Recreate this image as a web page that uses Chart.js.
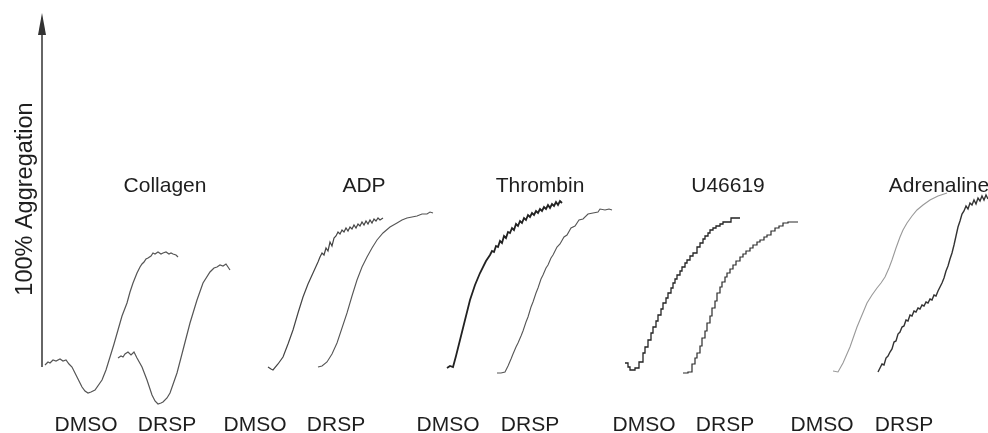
<!DOCTYPE html>
<html lang="en">
  <head>
    <meta charset="UTF-8" />
    <title>Platelet aggregation traces</title>
    <script src="https://cdn.jsdelivr.net/npm/chart.js@4.4.1/dist/chart.umd.min.js"></script>
    <style>
      html, body {
        margin: 0;
        padding: 0;
        background: #fff;
      }
      #wrap {
        width: 988px;
        height: 433px;
      }
    </style>
  </head>
  <body>
    <div id="wrap"><canvas id="aggChart" width="988" height="433"></canvas></div>

    <script>
      // time (x) and aggregation (y)
      const collagenDmsoT = [45,48,50,53,56,60,63,66,69,72,77,82,85,88,91,95,102,106,110,114,118,122,127,130,133,137,140,142,144,146,148,151,153,155,158,161,163,166,169,171,173,176,178];
      const collagenDmsoY = [2,5,4,7,6,8,6,7,3,0,-10,-20,-24,-26,-25,-23,-13,-3,10,23,37,51,64,75,84,94,100,103,105,108,109,111,114,113,115,113,114,115,113,114,113,112,110];
      const collagenDrspT = [118,121,123,125,128,131,134,137,142,147,152,155,158,161,163,167,170,177,183,190,197,203,210,212,214,217,220,223,226,228,230];
      const collagenDrspY = [9,11,10,13,15,12,15,9,0,-13,-28,-34,-37,-36,-35,-31,-26,-6,17,44,67,84,95,97,99,100,102,101,103,100,97];

      const adpDmsoT = [268,271,273,278,283,288,293,298,303,308,313,318,320,322,324,326,328,330,332,334,336,338,340,342,344,346,348,350,352,354,356,358,360,362,364,366,368,370,372,374,376,378,380,383];
      const adpDmsoY = [0,-2,-3,3,10,23,37,54,70,83,94,105,110,114,112,119,116,125,121,129,131,135,133,137,135,139,136,140,138,142,139,143,141,145,142,146,143,147,144,148,146,149,147,149];
      const adpDrspT = [318,322,327,332,337,342,347,352,357,362,367,372,377,383,390,397,402,407,412,417,422,427,430,433];
      const adpDrspY = [0,1,5,13,24,39,54,71,87,100,110,119,127,134,140,144,147,149,150,151,153,153,155,154];

      const thrombinDmsoT = [447,450,453,456,460,465,470,475,480,486,490,492,494,496,498,500,502,504,506,508,510,512,514,516,518,520,522,524,526,528,530,532,534,536,538,540,542,544,546,548,550,552,554,556,558,560,562];
      const thrombinDmsoY = [-1,1,0,11,27,47,67,82,94,106,112,116,115,121,120,126,124,131,129,135,134,139,137,143,141,146,144,149,147,152,150,154,152,156,154,158,156,160,158,162,159,163,161,165,162,166,164];
      const thrombinDrspT = [497,501,505,508,511,513,516,518,521,523,526,528,531,533,536,538,541,543,546,548,551,553,557,560,564,567,571,575,579,583,588,593,598,600,605,609,612];
      const thrombinDrspY = [-6,-6,-5,1,8,13,20,24,31,36,45,50,60,65,74,79,88,92,99,102,109,112,120,123,130,132,139,141,147,148,153,154,155,158,157,158,157];

      const u46619DmsoT = [625,628,630,633,635,639,643,645,648,651,653,656,658,661,663,666,668,671,673,675,677,680,682,685,687,690,693,697,700,703,705,708,710,713,716,720,723,728,731,736,740];
      const u46619DmsoY = [4,0,-3,-3,-1,5,14,20,27,34,40,46,52,58,64,69,74,79,84,88,92,96,100,104,107,111,114,120,124,128,131,134,137,139,141,143,145,145,149,149,149];
      const u46619DrspT = [683,686,688,692,695,697,700,702,705,707,710,712,715,717,720,722,725,727,730,733,736,740,743,746,750,753,757,760,764,767,771,775,779,783,788,793,798];
      const u46619DrspY = [-6,-6,-5,3,9,14,21,29,36,44,51,59,66,74,80,85,90,94,98,102,106,110,113,116,119,122,125,127,130,132,136,139,141,144,145,145,145];

      const adrenalineDmsoT = [833,838,843,850,857,862,867,872,877,881,885,889,892,896,900,903,907,912,917,923,930,938,947];
      const adrenalineDmsoY = [-4,-5,4,20,40,52,64,72,79,84,90,99,107,119,130,137,144,151,157,162,167,171,174];
      const adrenalineDrspT = [878,880,882,884,886,888,890,892,894,896,898,900,902,904,906,908,910,912,914,916,918,920,922,924,926,928,930,932,934,936,938,940,942,944,946,948,950,952,954,956,958,960,962,964,966,968,970,972,974,976,978,980,982,984,986,988];
      const adrenalineDrspY = [-5,-1,3,2,9,11,15,18,25,26,33,35,40,41,47,46,52,51,56,55,59,58,62,61,65,64,68,67,72,71,76,80,84,89,96,101,108,114,122,131,140,146,153,156,161,158,164,162,167,163,169,166,171,167,172,168];

      const agonists = ["Collagen", "ADP", "Thrombin", "U46619", "Adrenaline"];
      const treatments = ["DMSO", "DRSP", "DMSO", "DRSP", "DMSO", "DRSP", "DMSO", "DRSP", "DMSO", "DRSP"];
      const yTitle = "100% Aggregation";

      // where the labels sit, in time units
      const agonistX = [165, 364, 540, 728, 939];
      const treatmentX = [86, 167, 255, 336, 448, 530, 644, 725, 822, 904];

      function pts(t, y) {
        return t.map((v, i) => ({ x: v, y: y[i] }));
      }

      function trace(t, y, color, width, stepped) {
        return {
          data: pts(t, y),
          borderColor: color,
          borderWidth: width,
          pointRadius: 0,
          tension: 0,
          fill: false,
          showLine: true,
          stepped: stepped || false,
        };
      }

      const labelPlugin = {
        id: "labels",
        afterDraw(chart) {
          const ctx = chart.ctx;
          const xs = chart.scales.x;
          const ys = chart.scales.y;
          ctx.save();

          // y axis with arrow head
          const ax = xs.getPixelForValue(42);
          const y0 = ys.getPixelForValue(0);
          const yTop = ys.getPixelForValue(354);
          ctx.strokeStyle = "#333";
          ctx.fillStyle = "#333";
          ctx.lineWidth = 1.5;
          ctx.beginPath();
          ctx.moveTo(ax, y0);
          ctx.lineTo(ax, yTop + 18);
          ctx.stroke();
          ctx.beginPath();
          ctx.moveTo(ax, yTop);
          ctx.lineTo(ax - 4, yTop + 22);
          ctx.lineTo(ax + 4, yTop + 22);
          ctx.closePath();
          ctx.fill();

          ctx.fillStyle = "#1e1e1e";
          ctx.font = '21px "Liberation Sans", Arial, sans-serif';
          ctx.textAlign = "center";
          ctx.textBaseline = "alphabetic";
          agonists.forEach((name, i) => {
            ctx.fillText(name, xs.getPixelForValue(agonistX[i]), 192);
          });
          treatments.forEach((name, i) => {
            ctx.fillText(name, xs.getPixelForValue(treatmentX[i]), 431);
          });

          ctx.translate(32, 199);
          ctx.rotate(-Math.PI / 2);
          ctx.font = '23.5px "Liberation Sans", Arial, sans-serif';
          ctx.fillText(yTitle, 0, 0);
          ctx.restore();
        },
      };

      new Chart(document.getElementById("aggChart"), {
        type: "scatter",
        data: {
          datasets: [
            trace(collagenDmsoT, collagenDmsoY, "#555", 1.2),
            trace(collagenDrspT, collagenDrspY, "#555", 1.2),
            trace(adpDmsoT, adpDmsoY, "#444", 1.2),
            trace(adpDrspT, adpDrspY, "#555", 1.1),
            trace(thrombinDmsoT, thrombinDmsoY, "#222", 1.8),
            trace(thrombinDrspT, thrombinDrspY, "#555", 1.1),
            trace(u46619DmsoT, u46619DmsoY, "#222", 1.3, true),
            trace(u46619DrspT, u46619DrspY, "#2a2a2a", 1.2, true),
            trace(adrenalineDmsoT, adrenalineDmsoY, "#999", 1.1),
            trace(adrenalineDrspT, adrenalineDrspY, "#333", 1.4),
          ],
        },
        options: {
          responsive: false,
          animation: false,
          devicePixelRatio: 1,
          layout: { padding: 0 },
          plugins: {
            legend: { display: false },
            tooltip: { enabled: false },
          },
          scales: {
            x: { type: "linear", min: 0, max: 988, display: false },
            y: { type: "linear", min: -66, max: 367, display: false },
          },
        },
        plugins: [labelPlugin],
      });
    </script>
  </body>
</html>
